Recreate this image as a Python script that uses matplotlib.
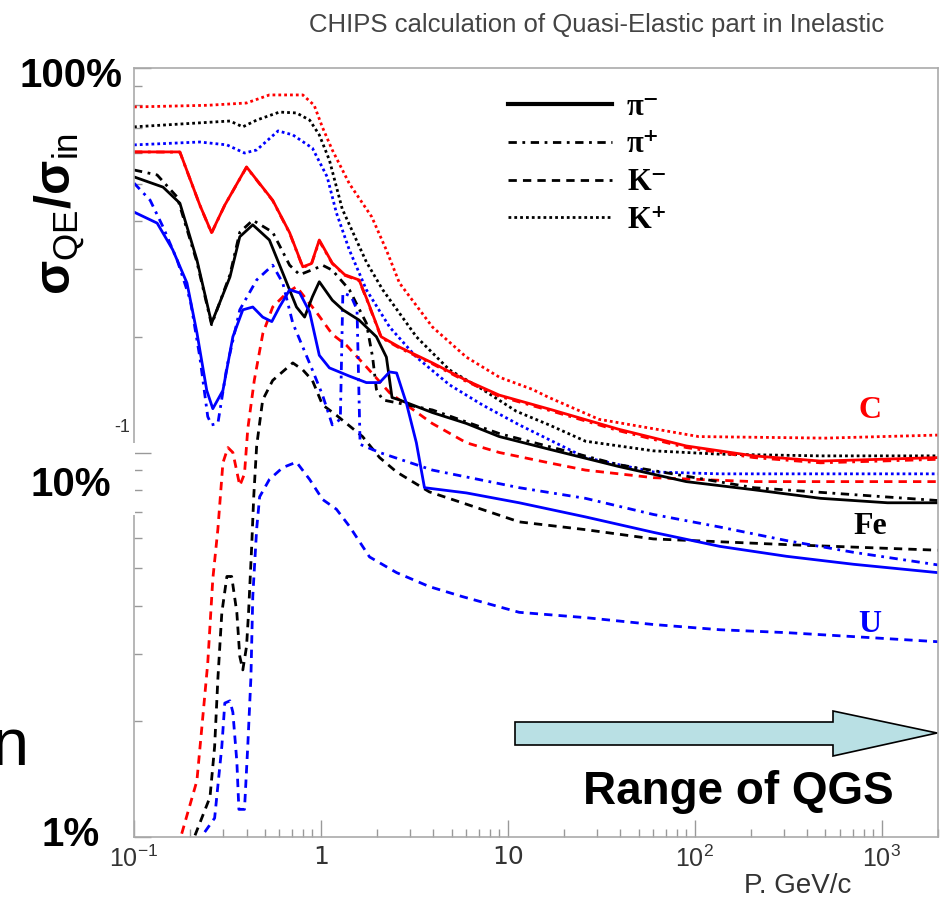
import matplotlib
matplotlib.use("Agg")
import matplotlib.pyplot as plt
from matplotlib.lines import Line2D
from matplotlib.patches import Polygon, Rectangle

plt.rcParams['mathtext.fontset'] = 'custom'
plt.rcParams['mathtext.rm'] = 'Liberation Sans'
plt.rcParams['mathtext.bf'] = 'Liberation Sans:bold'
plt.rcParams['mathtext.it'] = 'Liberation Sans:italic'

# ---- values: P (GeV/c) vs sigma_QE / sigma_in ----
# Carbon (red)
c_pim_x = [0.1, 0.176, 0.225, 0.26, 0.306, 0.4, 0.552, 0.68, 0.8, 0.89, 0.98, 1.15, 1.34, 1.6, 1.77,
           2.1, 2.63, 3.95, 6.0, 9.0, 17.3, 39, 90, 207, 471, 2000]
c_pim_y = [0.605, 0.605, 0.44, 0.373, 0.44, 0.553, 0.453, 0.373, 0.304, 0.31, 0.357, 0.311, 0.29, 0.281, 0.249,
           0.2, 0.188, 0.171, 0.154, 0.141, 0.129, 0.115, 0.104, 0.098, 0.095, 0.097]
c_pip_x = c_pim_x
c_pip_y = [0.605, 0.604, 0.44, 0.372, 0.44, 0.552, 0.452, 0.372, 0.303, 0.309, 0.355, 0.31, 0.289, 0.28, 0.248,
           0.199, 0.187, 0.17, 0.153, 0.14, 0.128, 0.114, 0.103, 0.097, 0.094, 0.096]
c_km_x = [0.18, 0.217, 0.23, 0.248, 0.264, 0.281, 0.299, 0.318, 0.338, 0.368, 0.39, 0.406, 0.44, 0.489, 0.552,
          0.656, 0.74, 0.95, 1.15, 1.37, 1.75, 2.33, 3.94, 6.0, 9.0, 16.6, 26, 60, 207, 2000]
c_km_y = [0.0102, 0.014, 0.019, 0.0283, 0.0469, 0.0632, 0.094, 0.103, 0.1, 0.082, 0.088, 0.115, 0.154, 0.204, 0.239,
          0.26, 0.27, 0.231, 0.203, 0.19, 0.167, 0.143, 0.119, 0.106, 0.1, 0.094, 0.09, 0.086, 0.084, 0.084]
c_kp_x = [0.1, 0.25, 0.4, 0.53, 0.8, 0.92, 1.02, 1.15, 1.42, 1.87, 2.24, 2.63, 3.95, 6.0, 9.0, 13.5, 16.6,
          30.7, 105, 500, 2000]
c_kp_y = [0.792, 0.8, 0.811, 0.851, 0.851, 0.8, 0.7, 0.612, 0.5, 0.41, 0.336, 0.276, 0.212, 0.177, 0.157, 0.146, 0.139,
          0.122, 0.11, 0.109, 0.111]

# Iron (black)
fe_pim_x = [0.1, 0.143, 0.176, 0.217, 0.26, 0.326, 0.368, 0.432, 0.53, 0.625, 0.74, 0.818, 0.9, 0.98, 1.15,
            1.31, 1.6, 1.98, 2.24, 2.4, 2.63, 3.95, 6.0, 9.0, 16.6, 39, 90, 207, 471, 1074, 2000]
fe_pim_y = [0.521, 0.49, 0.445, 0.317, 0.217, 0.286, 0.364, 0.391, 0.357, 0.293, 0.239, 0.225, 0.254, 0.278, 0.249,
            0.235, 0.221, 0.2, 0.177, 0.139, 0.137, 0.127, 0.119, 0.11, 0.102, 0.092, 0.084, 0.08, 0.076, 0.074, 0.074]
fe_pip_x = [0.1, 0.133, 0.17, 0.217, 0.26, 0.326, 0.368, 0.432, 0.552, 0.68, 0.77, 0.95, 1.02, 1.15, 1.42,
            1.75, 1.89, 1.98, 2.14, 3.95, 9.0, 39, 207, 2000]
fe_pip_y = [0.543, 0.527, 0.462, 0.313, 0.215, 0.29, 0.374, 0.402, 0.374, 0.307, 0.29, 0.302, 0.307, 0.298, 0.265,
            0.217, 0.177, 0.146, 0.137, 0.129, 0.112, 0.093, 0.081, 0.075]
fe_km_x = [0.212, 0.255, 0.27, 0.281, 0.295, 0.314, 0.333, 0.355, 0.368, 0.382, 0.4, 0.41, 0.426, 0.437, 0.453,
           0.488, 0.552, 0.707, 0.8, 0.9, 1.02, 1.21, 1.67, 2.06, 2.54, 3.8, 5.7, 11.5, 26, 60, 310, 2000]
fe_km_y = [0.0101, 0.0127, 0.0172, 0.0258, 0.0383, 0.0476, 0.0476, 0.0383, 0.0295, 0.0272, 0.0313, 0.0383, 0.0568,
           0.0767, 0.104, 0.137, 0.154, 0.171, 0.164, 0.154, 0.133, 0.125, 0.11, 0.097, 0.089, 0.079, 0.074, 0.066,
           0.063, 0.0596, 0.0576, 0.0557]
fe_kp_x = [0.1, 0.326, 0.382, 0.453, 0.6, 0.74, 0.87, 0.98, 1.11, 1.3, 1.75, 2.14, 3.24, 4.87, 7.3, 11.1, 16.6,
           26, 60, 136, 471, 2000]
fe_kp_y = [0.703, 0.728, 0.703, 0.732, 0.768, 0.764, 0.732, 0.67, 0.576, 0.43, 0.313, 0.265, 0.2, 0.164, 0.146,
           0.128, 0.118, 0.107, 0.101, 0.099, 0.098, 0.098]

# Uranium (blue)
u_pim_x = [0.1, 0.133, 0.161, 0.192, 0.217, 0.245, 0.264, 0.299, 0.338, 0.382, 0.432, 0.488, 0.546, 0.6, 0.68,
           0.77, 0.87, 0.98, 1.11, 1.42, 1.75, 2.06, 2.33, 2.54, 2.87, 3.24, 3.58, 6.0, 11.5, 26, 60, 136, 310,
           707, 2000]
u_pim_y = [0.422, 0.395, 0.337, 0.276, 0.205, 0.145, 0.13, 0.145, 0.2, 0.235, 0.239, 0.225, 0.219, 0.239, 0.265,
           0.26, 0.232, 0.179, 0.166, 0.158, 0.152, 0.152, 0.162, 0.161, 0.134, 0.106, 0.081, 0.0785, 0.074, 0.068,
           0.062, 0.057, 0.0537, 0.0512, 0.0487]
u_pip_x = [0.1, 0.122, 0.143, 0.17, 0.2, 0.225, 0.248, 0.26, 0.281, 0.314, 0.368, 0.453, 0.552, 0.625, 0.707,
           0.8, 0.9, 1.02, 1.15, 1.27, 1.31, 1.45, 1.56, 1.62, 2.06, 3.95, 11.5, 26, 60, 136, 310, 707, 2000]
u_pip_y = [0.502, 0.453, 0.386, 0.317, 0.249, 0.177, 0.124, 0.118, 0.119, 0.167, 0.235, 0.281, 0.307, 0.276, 0.217,
           0.188, 0.164, 0.141, 0.118, 0.122, 0.26, 0.255, 0.235, 0.105, 0.1, 0.09, 0.081, 0.076, 0.069, 0.064,
           0.059, 0.055, 0.051]
u_km_x = [0.239, 0.27, 0.295, 0.306, 0.326, 0.338, 0.355, 0.364, 0.39, 0.406, 0.422, 0.432, 0.453, 0.47, 0.53,
          0.625, 0.74, 0.87, 1.02, 1.21, 1.42, 1.82, 2.54, 3.8, 5.7, 11.5, 26, 60, 136, 310, 707, 2000]
u_km_y = [0.0103, 0.0112, 0.0172, 0.0223, 0.0226, 0.0211, 0.0157, 0.0118, 0.0118, 0.0172, 0.0259, 0.0423, 0.0632,
          0.0767, 0.0851, 0.0914, 0.0944, 0.0851, 0.0755, 0.0712, 0.0643, 0.0535, 0.0487, 0.0448, 0.0422, 0.0384,
          0.0372, 0.0357, 0.0346, 0.034, 0.0332, 0.0322]
u_kp_x = [0.1, 0.225, 0.314, 0.39, 0.453, 0.59, 0.707, 0.9, 1.08, 1.21, 1.42, 1.75, 2.33, 3.24, 4.87, 7.3, 11.5,
          26, 60, 136, 2000]
u_kp_y = [0.631, 0.642, 0.631, 0.601, 0.612, 0.686, 0.67, 0.619, 0.521, 0.42, 0.336, 0.265, 0.212, 0.177, 0.15,
          0.133, 0.118, 0.097, 0.089, 0.088, 0.088]

particles = ['\u03c0\u207b', '\u03c0\u207a', 'K\u207b', 'K\u207a']
nuclei = ['C', 'Fe', 'U']
colors = {'C': '#ff0000', 'Fe': '#000000', 'U': '#0000ff'}
styles = ['-', (0, (3, 2, 1, 2)), (0, (3, 2.2)), (0, (1, 1.1))]

curves = {
    'C':  [(c_pim_x, c_pim_y), (c_pip_x, c_pip_y), (c_km_x, c_km_y), (c_kp_x, c_kp_y)],
    'Fe': [(fe_pim_x, fe_pim_y), (fe_pip_x, fe_pip_y), (fe_km_x, fe_km_y), (fe_kp_x, fe_kp_y)],
    'U':  [(u_pim_x, u_pim_y), (u_pip_x, u_pip_y), (u_km_x, u_km_y), (u_kp_x, u_kp_y)],
}

W, H = 944, 909
fig = plt.figure(figsize=(W / 100, H / 100), dpi=100)
ax = fig.add_axes([134 / W, 1 - 837 / H, 804 / W, 769 / H])


def fx(px):
    return px / W


def fy(py):
    return 1 - py / H


# draw dotted first so the solid ones end up on top
for k in [3, 2, 1, 0]:
    for nuc in nuclei:
        x, y = curves[nuc][k]
        ax.plot(x, y, color=colors[nuc], linestyle=styles[k], lw=2.0, zorder=2 + (3 - k) * 0.1)

ax.set_xscale('log')
ax.set_yscale('log')
ax.set_xlim(0.1, 2000)
ax.set_ylim(0.01, 1.0)

for sp in ax.spines.values():
    sp.set_color('#aaaaaa')
    sp.set_linewidth(1.2)

ax.set_xticks([0.1, 1, 10, 100, 1000])
ax.set_xticklabels(['$10^{-1}$', '1', '10', '$10^{2}$', '$10^{3}$'])
ax.tick_params(axis='both', which='both', direction='in', color='#999999', top=False, right=False)
ax.tick_params(axis='both', which='major', length=12, width=1)
ax.tick_params(axis='both', which='minor', length=6, width=1)
ax.tick_params(axis='x', labelsize=18, labelcolor='#333333', pad=6)
ax.tick_params(axis='y', labelleft=False)

# legend (line styles only, black keys)
handles = [Line2D([], [], color='black', linestyle=s, lw=2.0) for s in styles]
handles[0].set_linewidth(3.0)
ax.legend(handles, particles, loc='upper left', bbox_to_anchor=(0.465, 0.968), frameon=False,
          handlelength=3.4, handletextpad=0.5, labelspacing=0.29, borderpad=0, borderaxespad=0,
          prop={'family': ['Liberation Serif', 'DejaVu Serif'], 'weight': 'bold', 'size': 22})

# nucleus labels
label_pos = {'C': 410, 'Fe': 526, 'U': 625}
for nuc in nuclei:
    fig.text(fx(870), fy(label_pos[nuc]), nuc, color=colors[nuc], ha='center', va='center',
             family='Liberation Serif', weight='bold', size=23)

# title and axis texts
fig.text(fx(597), fy(25), 'CHIPS calculation of Quasi-Elastic part in Inelastic', ha='center', va='center',
         family='Liberation Sans', size=18.5, color='#444444')
fig.text(fx(798), fy(886), 'P. GeV/c', ha='center', va='center', family='Liberation Sans', size=20,
         color='#333333')
fig.text(fx(60), fy(214), r'$\mathbf{σ}_{\mathrm{QE}}\mathbf{/σ}_{\mathrm{in}}$',
         rotation=90, ha='center', va='center', size=36)

# slide annotations
fig.text(fx(122), fy(427), '-1', ha='center', va='center', family='Liberation Sans', size=13, color='#333333')
fig.patches.append(Rectangle((0, fy(515)), fx(134.5), fy(443) - fy(515), transform=fig.transFigure,
                             facecolor='white', edgecolor='none', zorder=5))
for txt, py in [('100%', 76), ('10%', 485), ('1%', 835)]:
    fig.text(fx(71), fy(py), txt, ha='center', va='center', family='Liberation Sans', weight='bold',
             size=29, zorder=6)
fig.text(fx(-8), fy(748), 'n', ha='left', va='center', family='Liberation Sans', size=48)

arrow_px = [(515, 722), (833, 722), (833, 711), (937, 733), (833, 756), (833, 745), (515, 745)]
fig.patches.append(Polygon([(fx(a), fy(b)) for a, b in arrow_px], closed=True, transform=fig.transFigure,
                           facecolor='#b9e0e4', edgecolor='black', lw=1.2, zorder=6))
fig.text(fx(738), fy(792), 'Range of QGS', ha='center', va='center', family='Liberation Sans',
         weight='bold', size=33, zorder=6)

fig.savefig('out.png', dpi=100)
